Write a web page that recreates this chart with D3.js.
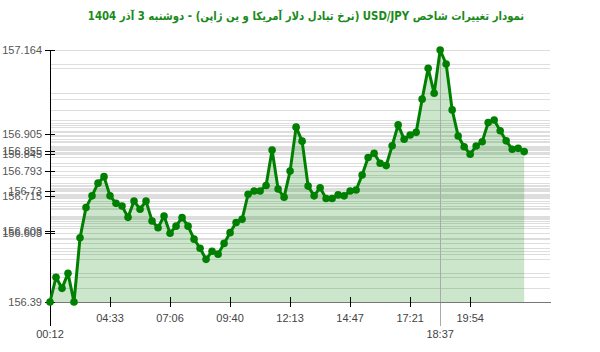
<!DOCTYPE html>
<html>
<head>
<meta charset="utf-8">
<script src="https://cdn.jsdelivr.net/npm/d3@7"></script>
<style>
  body { margin: 0; background: #fff; }
  svg { display: block; }
</style>
</head>
<body>
<div id="chart"></div>
<script>
// USD/JPY intraday values, one per sample (equally spaced on the x axis)
const values = [
  156.39, 156.466, 156.432, 156.478, 156.39, 156.587, 156.68, 156.716, 156.755, 156.775,
  156.716, 156.693, 156.685, 156.65, 156.7, 156.675, 156.7, 156.639, 156.618, 156.654,
  156.601, 156.623, 156.649, 156.623, 156.583, 156.555, 156.521, 156.546, 156.537, 156.57,
  156.603, 156.634, 156.644, 156.721, 156.731, 156.731, 156.748, 156.857, 156.737, 156.712,
  156.792, 156.927, 156.884, 156.746, 156.716, 156.741, 156.708, 156.708, 156.719, 156.716,
  156.731, 156.734, 156.78, 156.834, 156.847, 156.816, 156.809, 156.87, 156.934, 156.89,
  156.903, 156.911, 157.013, 157.108, 157.031, 157.164, 157.121, 156.98, 156.9, 156.867,
  156.844, 156.869, 156.882, 156.941, 156.949, 156.916, 156.885, 156.859, 156.862, 156.852
];

// x tick labels and the sample index they sit on
const xTickIdx = [10, 20, 30, 40, 50, 60, 70];
const xTickLabels = ['04:33', '07:06', '09:40', '12:13', '14:47', '17:21', '19:54'];
const firstLabel = '00:12';
const maxLabel = '18:37';

// y tick values shown on the axis
const yTicks = [157.164, 156.905, 156.855, 156.845, 156.793, 156.73, 156.715, 156.608, 156.603, 156.39];

const title = 'نمودار تغییرات شاخص USD/JPY (نرخ تبادل دلار آمریکا و ین ژاپن) - دوشنبه  3 آذر 1404';

const width = 600, height = 352;
const margin = { top: 50, right: 50, bottom: 50, left: 50 };

const svg = d3.select('#chart').append('svg')
  .attr('width', width)
  .attr('height', height);

const x = d3.scaleLinear()
  .domain([0, 83.3])
  .range([margin.left, width - margin.right]);

const y = d3.scaleLinear()
  .domain([d3.min(values), d3.max(values)])
  .range([height - margin.bottom, margin.top]);

const baseY = y.range()[0];
const maxIdx = d3.maxIndex(values);

// title (squeezed horizontally to the original width)
svg.append('text')
  .attr('transform', 'translate(306,20) scale(0.885,1)')
  .attr('text-anchor', 'middle')
  .attr('direction', 'rtl')
  .style('font-family', '"DejaVu Sans", sans-serif')
  .style('font-weight', 'bold')
  .style('font-size', '11.5px')
  .style('fill', '#1a8a1a')
  .text(title);

// horizontal grid, one line per value
svg.append('g')
  .selectAll('line')
  .data(values.concat([y.domain()[1]]))
  .join('line')
  .attr('x1', margin.left)
  .attr('x2', width - margin.right)
  .attr('y1', d => Math.round(y(d)) + 0.5)
  .attr('y2', d => Math.round(y(d)) + 0.5)
  .style('stroke', '#dedede')
  .style('stroke-width', 1);

// area under the line
const area = d3.area()
  .x((d, i) => x(i))
  .y0(baseY)
  .y1(d => y(d));

svg.append('path')
  .datum(values)
  .attr('d', area)
  .style('fill', 'rgba(0,128,0,0.2)');

// vertical marker at the maximum
svg.append('line')
  .attr('x1', Math.round(x(maxIdx)) + 0.5)
  .attr('x2', Math.round(x(maxIdx)) + 0.5)
  .attr('y1', y(values[maxIdx]))
  .attr('y2', baseY + 24)
  .style('stroke', '#aaa')
  .style('stroke-width', 1);

// x axis line
svg.append('line')
  .attr('x1', margin.left)
  .attr('x2', width - margin.right + 1)
  .attr('y1', baseY + 0.5)
  .attr('y2', baseY + 0.5)
  .style('stroke', '#777')
  .style('stroke-width', 1);

// x ticks
const xt = svg.append('g');
xt.selectAll('line')
  .data(xTickIdx)
  .join('line')
  .attr('x1', d => Math.round(x(d)) + 0.5)
  .attr('x2', d => Math.round(x(d)) + 0.5)
  .attr('y1', baseY - 5)
  .attr('y2', baseY + 5)
  .style('stroke', '#000');
xt.selectAll('text')
  .data(xTickIdx)
  .join('text')
  .attr('x', d => x(d))
  .attr('y', baseY + 20)
  .attr('text-anchor', 'middle')
  .style('font-family', '"Liberation Sans", Arial, sans-serif')
  .style('font-size', '11px')
  .style('fill', '#444')
  .text((d, i) => xTickLabels[i]);

svg.append('text')
  .attr('x', x(maxIdx))
  .attr('y', baseY + 36)
  .attr('text-anchor', 'middle')
  .style('font-family', '"Liberation Sans", Arial, sans-serif')
  .style('font-size', '11px')
  .style('fill', '#444')
  .text(maxLabel);

// y axis
svg.append('line')
  .attr('x1', margin.left + 0.5)
  .attr('x2', margin.left + 0.5)
  .attr('y1', margin.top)
  .attr('y2', baseY + 24)
  .style('stroke', '#000');

svg.append('text')
  .attr('x', margin.left)
  .attr('y', baseY + 36)
  .attr('text-anchor', 'middle')
  .style('font-family', '"Liberation Sans", Arial, sans-serif')
  .style('font-size', '11px')
  .style('fill', '#444')
  .text(firstLabel);

const yt = svg.append('g');
yt.selectAll('line')
  .data(yTicks)
  .join('line')
  .attr('x1', margin.left - 5)
  .attr('x2', margin.left + 5)
  .attr('y1', d => Math.round(y(d)) + 0.5)
  .attr('y2', d => Math.round(y(d)) + 0.5)
  .style('stroke', '#000');
yt.selectAll('text')
  .data(yTicks)
  .join('text')
  .attr('x', margin.left - 8)
  .attr('y', d => y(d) + 4)
  .attr('text-anchor', 'end')
  .style('font-family', '"Liberation Sans", Arial, sans-serif')
  .style('font-size', '11px')
  .style('fill', '#555')
  .text(d => d3.format('.3~f')(d));

// line and points
const line = d3.line()
  .x((d, i) => x(i))
  .y(d => y(d));

svg.append('path')
  .datum(values)
  .attr('d', line)
  .style('fill', 'none')
  .style('stroke', '#008000')
  .style('stroke-width', 3)
  .style('stroke-linejoin', 'round');

svg.append('g')
  .selectAll('circle')
  .data(values)
  .join('circle')
  .attr('cx', (d, i) => x(i))
  .attr('cy', d => y(d))
  .attr('r', 3.8)
  .style('fill', '#008000');
</script>
</body>
</html>
